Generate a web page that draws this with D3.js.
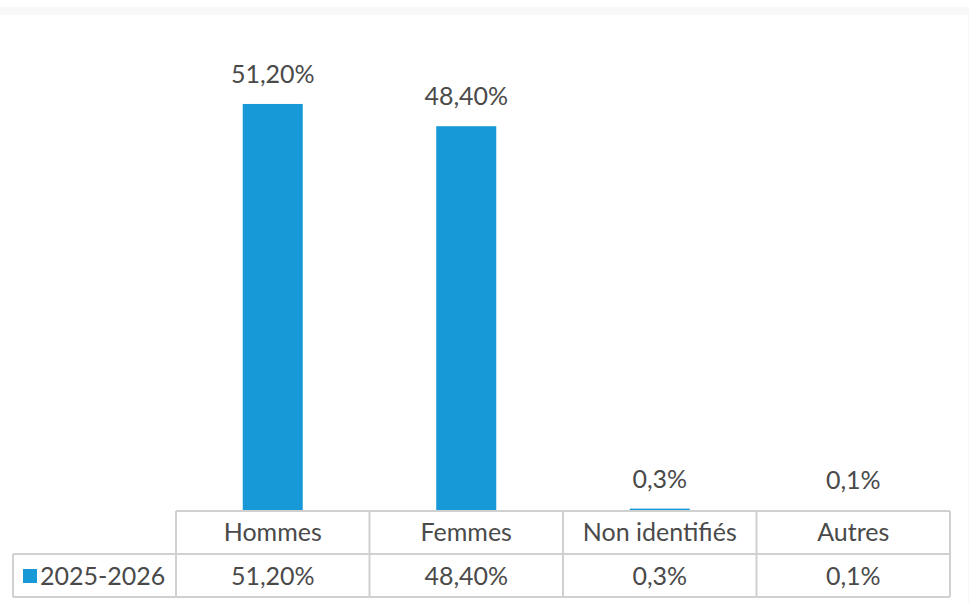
<!DOCTYPE html>
<html>
<head>
<meta charset="utf-8">
<script src="https://cdn.jsdelivr.net/npm/d3@7"></script>
<style>
  html, body { margin: 0; padding: 0; background: #fff; }
  svg { display: block; }
  text { font-family: Lato, "Open Sans", sans-serif; fill: #4a4a4a; }
</style>
</head>
<body>
<svg id="chart" width="970" height="603"></svg>
<script>
const categories = ["Hommes", "Femmes", "Non identifiés", "Autres"];
const values = [51.2, 48.4, 0.3, 0.1];
const valueLabels = ["51,20%", "48,40%", "0,3%", "0,1%"];
const seriesName = "2025-2026";
const yTicks = [0, 60];

(function () {
const svg = d3.select("#chart");
const color = "#1699d6";
const gridColor = "#d0d0d0";
const fs = 25;

// top band & right faint border
svg.append("rect").attr("x", 0).attr("y", 7).attr("width", 968).attr("height", 8).attr("fill", "#f8f8f8");
svg.append("line").attr("x1", 968.5).attr("x2", 968.5).attr("y1", 7).attr("y2", 603)
  .attr("stroke", "#f6f6f6").attr("stroke-width", 1);

const x = d3.scaleBand().domain(categories).range([176, 950]).padding(0);
const y = d3.scaleLinear().domain([yTicks[0], yTicks[1]]).range([511, 34]);
const barW = 60;

// bars
svg.append("g").selectAll("rect").data(categories).join("rect")
  .attr("x", d => x(d) + x.bandwidth() / 2 - barW / 2)
  .attr("y", (d, i) => y(values[i]))
  .attr("width", barW)
  .attr("height", (d, i) => y(0) - y(values[i]))
  .attr("fill", color);

// value labels
svg.append("g").selectAll("text").data(categories).join("text")
  .attr("x", d => x(d) + x.bandwidth() / 2)
  .attr("y", (d, i) => y(values[i]) - 21)
  .attr("text-anchor", "middle")
  .attr("font-size", fs)
  .text((d, i) => valueLabels[i]);

// data table
const rowTop = 511, rowMid = 554, rowBot = 597, legLeft = 13;
const t = svg.append("g").attr("stroke", gridColor).attr("stroke-width", 2).attr("fill", "none");
t.append("line").attr("x1", 176).attr("x2", 950).attr("y1", rowTop).attr("y2", rowTop);
t.append("line").attr("x1", legLeft).attr("x2", 950).attr("y1", rowMid).attr("y2", rowMid);
t.append("line").attr("x1", legLeft).attr("x2", 950).attr("y1", rowBot).attr("y2", rowBot);
t.append("line").attr("x1", legLeft).attr("x2", legLeft).attr("y1", rowMid).attr("y2", rowBot);
const bounds = categories.map(d => x(d)).concat([x.range()[1]]);
t.selectAll("line.v").data(bounds).join("line").attr("class", "v")
  .attr("x1", d => d).attr("x2", d => d).attr("y1", rowTop).attr("y2", rowBot);

// header texts
svg.append("g").selectAll("text").data(categories).join("text")
  .attr("x", d => x(d) + x.bandwidth() / 2)
  .attr("y", 541)
  .attr("text-anchor", "middle")
  .attr("font-size", fs)
  .text(d => d);

// data row texts
svg.append("g").selectAll("text").data(categories).join("text")
  .attr("x", d => x(d) + x.bandwidth() / 2)
  .attr("y", 585)
  .attr("text-anchor", "middle")
  .attr("font-size", fs)
  .text((d, i) => valueLabels[i]);

// legend key
svg.append("rect").attr("x", 23).attr("y", 569).attr("width", 14).attr("height", 14).attr("fill", color);
svg.append("text").attr("x", 40).attr("y", 585).attr("font-size", fs).text(seriesName);
})();
</script>
</body>
</html>
